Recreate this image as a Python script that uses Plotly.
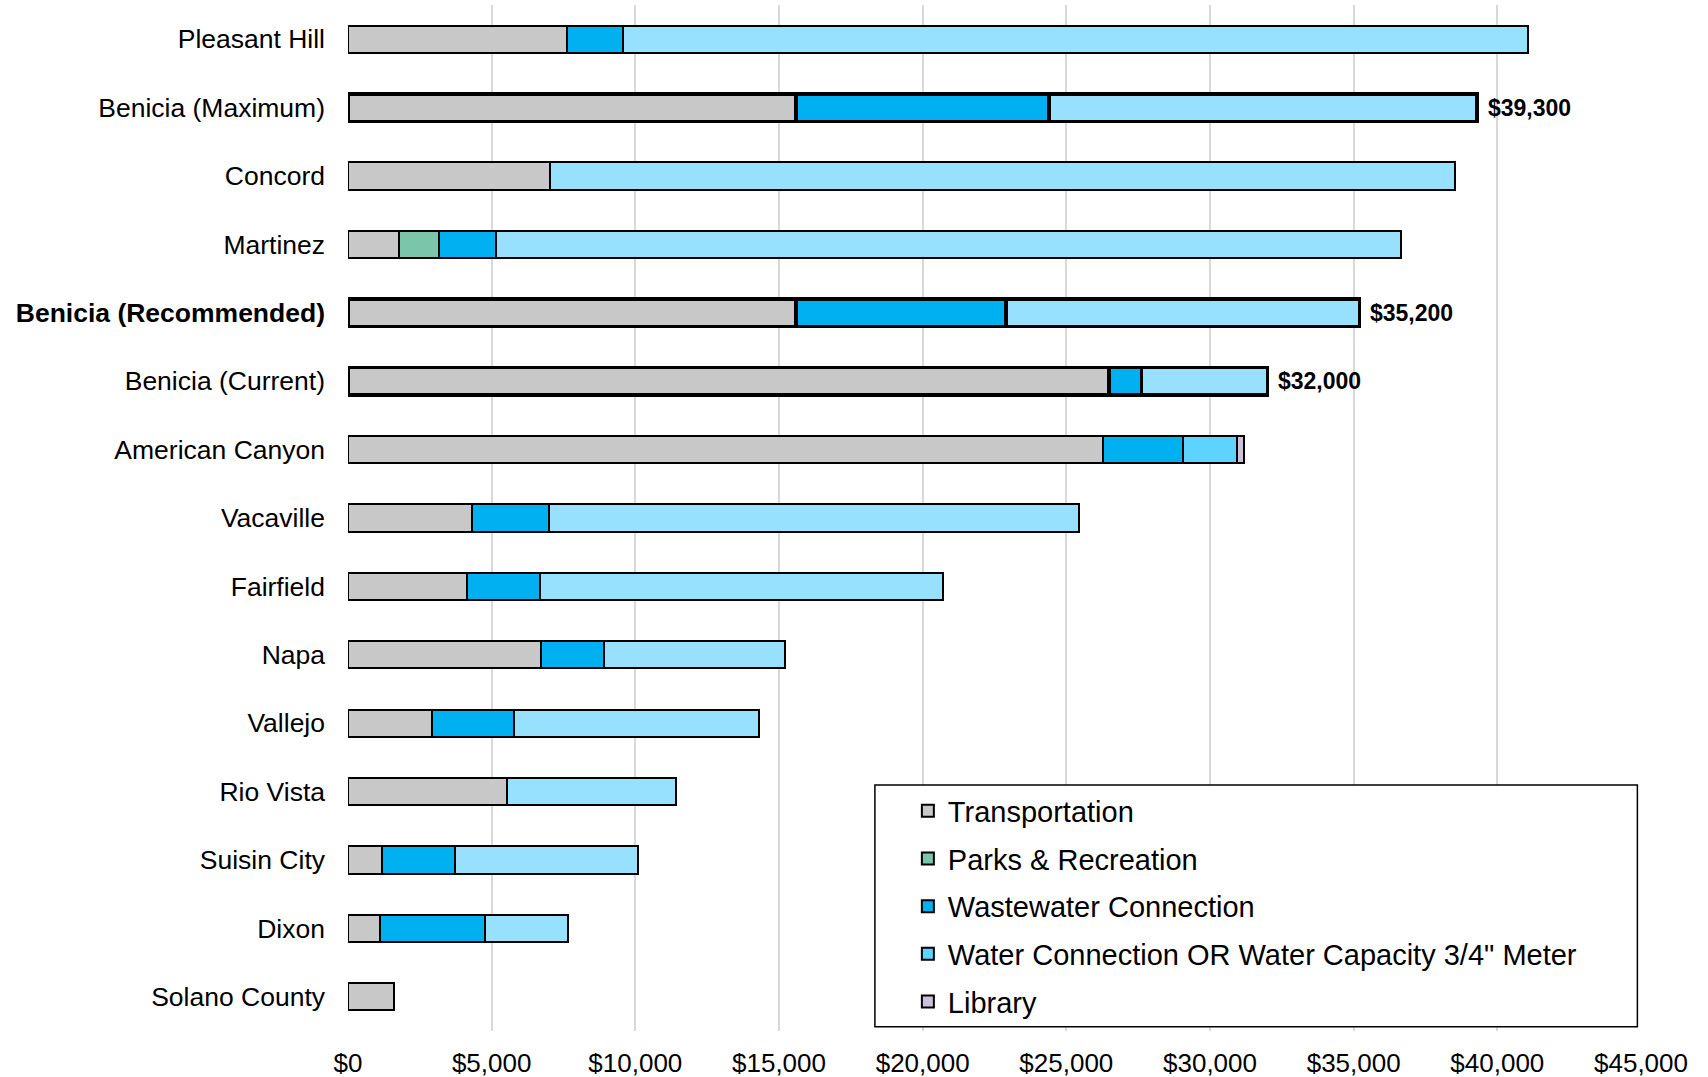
import plotly.graph_objects as go

# Development impact fees per single-family unit, listed top to bottom
cities = [
    "Pleasant Hill", "Benicia (Maximum)", "Concord", "Martinez",
    "Benicia (Recommended)", "Benicia (Current)", "American Canyon",
    "Vacaville", "Fairfield", "Napa", "Vallejo", "Rio Vista",
    "Suisin City", "Dixon", "Solano County",
]
transportation = [7620, 15600, 7020, 1760, 15600, 26490, 26280, 4310, 4150, 6730, 2920, 5550, 1190, 1120, 1600]
parks_recreation = [None, None, None, 1420, None, None, None, None, None, None, None, None, None, None, None]
wastewater = [1960, 8800, None, 1970, 7300, 1130, 2790, 2680, 2520, 2190, 2840, None, 2520, 3640, None]
water = [31490, 14900, 31490, 31490, 12300, 4380, 1870, 18450, 14030, 6300, 8560, 5860, 6380, 2900, None]
library = [None, None, None, None, None, None, 230, None, None, None, None, None, None, None, None]

benicia_rows = ["Benicia (Maximum)", "Benicia (Recommended)", "Benicia (Current)"]
x_ticks = [0, 5000, 10000, 15000, 20000, 25000, 30000, 35000, 40000, 45000]
x_ticktext = [f"${v:,}" for v in x_ticks]

FONT = "Liberation Sans, Arial, sans-serif"
TEXT = "#000000"

# Benicia scenarios get a heavier outline
line_w = [3.5 if c in benicia_rows else 2 for c in cities]

WATER_LIGHT = "#97E1FE"
WATER_BRIGHT = "#5DD3FF"

series = [
    ("Transportation", transportation, "#C8C8C8"),
    ("Parks & Recreation", parks_recreation, "#7BC5AA"),
    ("Wastewater Connection", wastewater, "#00B0F0"),
    ("Water Connection OR Water Capacity 3/4\" Meter", water, WATER_LIGHT),
    ("Library", library, "#CCC0DA"),
]

fig = go.Figure()
for i, (name, vals, color) in enumerate(series):
    is_water = name.startswith("Water")
    colors = color
    if is_water:
        colors = [WATER_BRIGHT if c == "American Canyon" else color for c in cities]
    fig.add_trace(go.Bar(
        y=cities, x=vals, name=name, orientation="h",
        legendgroup=f"g{i}", showlegend=not is_water,
        marker=dict(color=colors, line=dict(color="#000000", width=line_w)),
        width=0.4,
        hoverinfo="x+y+name",
    ))
    if is_water:
        # legend swatch for the water series
        fig.add_trace(go.Bar(
            y=[None], x=[None], name=name, orientation="h",
            legendgroup=f"g{i}", showlegend=True,
            marker=dict(color=WATER_BRIGHT, line=dict(color="#000000", width=2)),
        ))

# Total labels for the Benicia scenarios
for c in benicia_rows:
    k = cities.index(c)
    total = sum(v[k] or 0 for v in [transportation, parks_recreation, wastewater, water, library])
    fig.add_annotation(
        x=total, y=c, xref="x", yref="y", text=f"<b>${total:,.0f}</b>",
        showarrow=False, xanchor="left", xshift=9,
        font=dict(family=FONT, size=23, color=TEXT),
    )

# Legend frame
fig.add_shape(
    type="rect", xref="paper", yref="paper",
    x0=0.4075, x1=0.9972, y0=0.0042, y1=0.2397,
    line=dict(color="#000000", width=1.5), fillcolor="#FFFFFF", layer="above",
)

ticktext = [f"<b>{c}</b>" if c == "Benicia (Recommended)" else c for c in cities]

fig.update_layout(
    width=1708, height=1077,
    margin=dict(l=348, r=67, t=5, b=46, autoexpand=False),
    barmode="stack",
    plot_bgcolor="#FFFFFF", paper_bgcolor="#FFFFFF",
    font=dict(family=FONT, color=TEXT),
    legend=dict(
        x=0.433, y=0.2394, xanchor="left", yanchor="top",
        bgcolor="rgba(0,0,0,0)", borderwidth=0,
        font=dict(family=FONT, size=29, color=TEXT),
        tracegroupgap=7,
    ),
    xaxis=dict(
        range=[0, 45000], tickvals=x_ticks, ticktext=x_ticktext,
        showgrid=True, gridcolor="#D9D9D9", gridwidth=1.5,
        zeroline=False, showline=False, ticks="",
        ticklabelstandoff=14, automargin=False,
        tickfont=dict(family=FONT, size=26, color=TEXT),
    ),
    yaxis=dict(
        type="category", categoryorder="array", categoryarray=cities,
        autorange="reversed", tickvals=cities, ticktext=ticktext,
        showgrid=False, zeroline=False, showline=False, ticks="",
        ticklabelstandoff=22, automargin=False,
        tickfont=dict(family=FONT, size=26.5, color=TEXT),
    ),
)

fig.write_html("out.html")
